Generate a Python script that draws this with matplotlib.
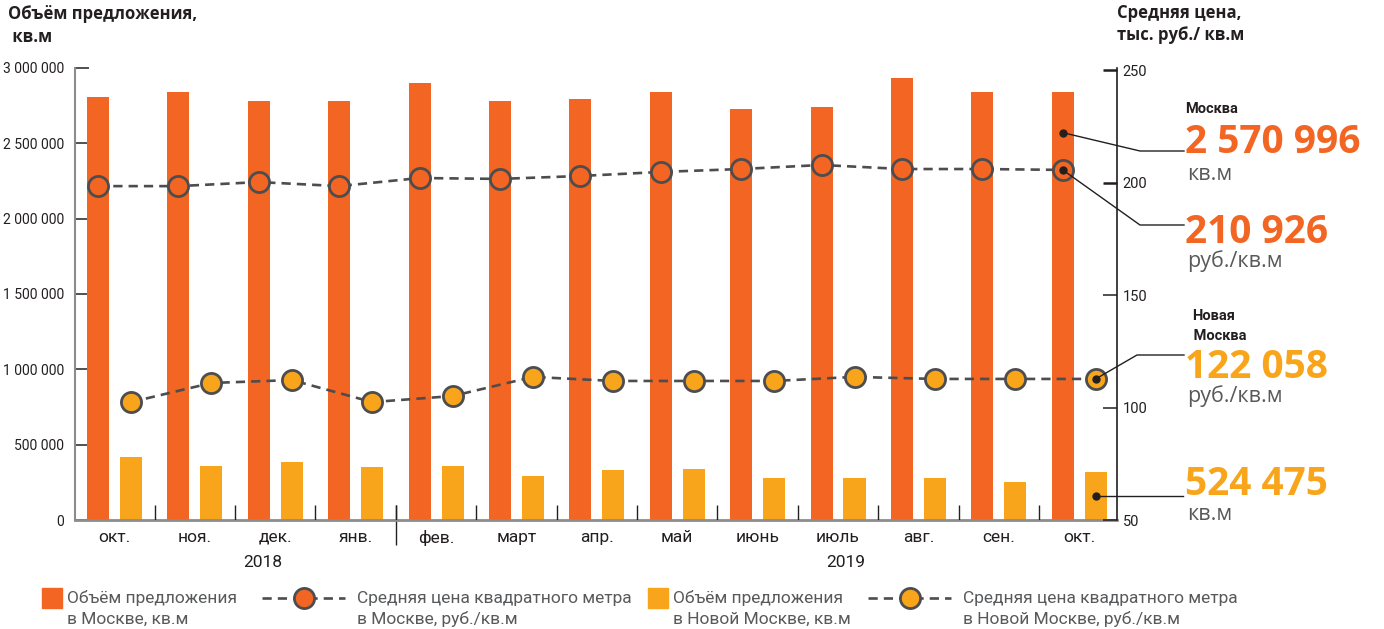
import matplotlib
matplotlib.use("Agg")
import matplotlib.pyplot as plt
from matplotlib.lines import Line2D
from matplotlib.patches import Rectangle
import numpy as np

# data
months = ["окт.", "ноя.", "дек.", "янв.", "фев.", "март", "апр.", "май",
          "июнь", "июль", "авг.", "сен.", "окт."]
years = ["2018", "2019"]
moscow_volume = [2807000, 2841000, 2781000, 2781000, 2900000, 2781000, 2794000,
                 2841000, 2728000, 2741000, 2934000, 2841000, 2841000]
newmoscow_volume = [418000, 358000, 385000, 352000, 358000, 292000, 332000,
                    338000, 279000, 279000, 279000, 252000, 319000]
moscow_price = [198.4, 198.4, 200.2, 198.4, 202.0, 201.6, 202.9, 204.7,
                206.0, 207.8, 206.0, 206.0, 205.6]
newmoscow_price = [102.4, 110.9, 112.2, 102.4, 105.1, 113.6, 111.8, 111.8,
                   111.8, 113.6, 112.7, 112.7, 112.7]
callout_values = ["2 570 996", "210 926", "122 058", "524 475"]
callout_units = ["кв.м", "руб./кв.м", "руб./кв.м", "кв.м"]
moscow_volume_last = 2570996

W, H = 1384, 629
ORANGE = "#F26522"
YELLOW = "#F8A51C"
DARK = "#4D4D4F"
GREYTXT = "#58595B"
BLACK = "#231F20"
TICKGREY = "#8C8C8C"
NARROW = ["Roboto", "DejaVu Sans"]
WIDE = ["Open Sans", "DejaVu Sans"]

plt.rcParams["font.family"] = NARROW


def fx(px):
    return px / W


def fy(py):
    return 1 - py / H


fig = plt.figure(figsize=(W / 100, H / 100), dpi=100)
ax = fig.add_axes([fx(75), fy(520), (1117 - 75) / W, (520 - 68) / H])
ax2 = ax.twinx()

x = np.arange(len(months))
off, bw = 0.205, 0.274
ax.bar(x - off, moscow_volume, bw, color=ORANGE, zorder=2)
ax.bar(x + off, newmoscow_volume, bw, color=YELLOW, zorder=2)
ax.set_xlim(-0.491, 12.47)
ax.set_ylim(0, 3000000)
ax2.set_ylim(50, 250.9)

dash = (0, (3.5, 2.3))
ax2.plot(x - off, moscow_price, ls=dash, lw=1.9, color=DARK, marker="o",
         ms=14.5, mfc=ORANGE, mec=DARK, mew=2, zorder=3)
ax2.plot(x + off, newmoscow_price, ls=dash, lw=1.9, color=DARK, marker="o",
         ms=14.5, mfc=YELLOW, mec=DARK, mew=2, zorder=3)

# left axis
lt = list(range(0, 3000001, 500000))
ax.set_yticks(lt, [f"{v:,}".replace(",", " ") for v in lt])
ax.tick_params(axis="y", direction="in", length=10, width=1.1, color=BLACK,
               pad=8, labelsize=10, labelcolor=BLACK)
ax.yaxis.get_major_ticks()[-1].tick1line.set_color(TICKGREY)
ax.spines["left"].set_color(TICKGREY)
ax.spines["left"].set_linewidth(1.5)
ax.spines["bottom"].set_color(TICKGREY)
ax.spines["bottom"].set_linewidth(2)
for s in ["top", "right"]:
    ax.spines[s].set_visible(False)
ax.set_xticks(x, months)
ax.tick_params(axis="x", length=0, pad=7, labelsize=12.5, labelcolor=BLACK)

# right axis
ax2.set_yticks([50, 100, 150, 200, 250])
ax2.tick_params(axis="y", direction="in", length=10, width=1.1, color=BLACK,
                pad=4, labelsize=10.5, labelcolor=BLACK)
for t in ax2.yaxis.get_major_ticks()[3:]:
    t.tick2line.set_color(TICKGREY)
    t.tick2line.set_markeredgewidth(1.8)
ax2.spines["right"].set_color(BLACK)
ax2.spines["right"].set_linewidth(1.2)
for s in ["top", "left", "bottom"]:
    ax2.spines[s].set_visible(False)

# month separators
xt = ax.get_xaxis_transform()
sep = x[:-1] + 0.5
ax.vlines(sep, 0, 0.033, transform=xt, color=BLACK, lw=1, zorder=4)
ax.vlines([3.5], -0.055, 0.033, transform=xt, color=BLACK, lw=1, clip_on=False)
for yr, pos in zip(years, [1.85, 9.1]):
    ax.text(pos, -0.095, yr, transform=xt, ha="center", va="center",
            fontsize=12.5, color=BLACK)

# axis titles
fig.text(fx(8), fy(14), "Объём предложения,", family=WIDE, weight="bold",
         fontsize=12, va="center", color=BLACK)
fig.text(fx(8), fy(37), " кв.м", family=WIDE, weight="bold",
         fontsize=12, va="center", color=BLACK)
fig.text(fx(1117), fy(13), "Средняя цена,", family=WIDE, weight="bold",
         fontsize=12, va="center", color=BLACK)
fig.text(fx(1117), fy(35), "тыс. руб./ кв.м", family=WIDE, weight="bold",
         fontsize=12, va="center", color=BLACK)

# callouts
anchors = [(ax, x[-1] - off, moscow_volume_last),
           (ax2, x[-1] - off, moscow_price[-1]),
           (ax2, x[-1] + off, newmoscow_price[-1]),
           (ax, x[-1] + off, newmoscow_volume[-1] / 2)]
elbows = [(1140, 151), (1140, 225), (1137, 355), (None, None)]
ends_y = [151, 225, 355, None]
for (a, ax_x, ax_y), (ex, ey), endy in zip(anchors, elbows, ends_y):
    a.plot([ax_x], [ax_y], "o", ms=5, color=BLACK, zorder=6, clip_on=False)
    dx, dy = a.transData.transform((ax_x, ax_y))
    dy = H - dy
    if ex is None:
        pts = [(dx, dy), (1183, dy)]
    else:
        pts = [(dx, dy), (ex, ey), (1184, endy)]
    fig.add_artist(Line2D([fx(p[0]) for p in pts], [fy(p[1]) for p in pts],
                          transform=fig.transFigure, color=BLACK, lw=1))

fig.text(fx(1185), fy(109), "Москва", weight="bold", fontsize=10.5,
         va="center", color=BLACK)
fig.text(fx(1192), fy(316), "Новая", weight="bold", fontsize=10.5,
         va="center", color=BLACK)
fig.text(fx(1190), fy(336), " Москва", weight="bold", fontsize=10.5,
         va="center", color=BLACK)

num_base = [153, 243, 378, 495]
unit_base = [180, 267, 402, 520]
num_col = [ORANGE, ORANGE, YELLOW, YELLOW]
for val, unit, nb, ub, c in zip(callout_values, callout_units, num_base,
                                unit_base, num_col):
    fig.text(fx(1185), fy(nb), val, family=WIDE, weight="bold", fontsize=28,
             color=c, va="baseline")
    fig.text(fx(1187), fy(ub), unit, family=WIDE, fontsize=15.5,
             color=GREYTXT, va="baseline")

# legend drawn by hand along the bottom
leg_items = [("bar", ORANGE, 42, "Объём предложения\nв Москве, кв.м"),
             ("line", ORANGE, 262, "Средняя цена квадратного метра\nв Москве, руб./кв.м"),
             ("bar", YELLOW, 648, "Объём предложения\nв Новой Москве, кв.м"),
             ("line", YELLOW, 868, "Средняя цена квадратного метра\nв Новой Москве, руб./кв.м")]
for kind, col, lx, label in leg_items:
    if kind == "bar":
        fig.add_artist(Rectangle((fx(lx), fy(608)), 20 / W, 20 / H,
                                 transform=fig.transFigure, color=col))
        tx = lx + 25
    else:
        fig.add_artist(Line2D([fx(lx), fx(lx + 83)], [fy(598), fy(598)],
                              transform=fig.transFigure, ls=dash, lw=1.9,
                              color=DARK))
        fig.add_artist(Line2D([fx(lx + 41.5)], [fy(598)],
                              transform=fig.transFigure, marker="o", ms=14.5,
                              mfc=col, mec=DARK, mew=2))
        tx = lx + 95
    top, bottom = label.split("\n")
    fig.text(fx(tx), fy(598), top, fontsize=12.5, color=GREYTXT, va="center")
    fig.text(fx(tx), fy(619), bottom, fontsize=12.5, color=GREYTXT, va="center")

fig.savefig("out.png", dpi=100)
